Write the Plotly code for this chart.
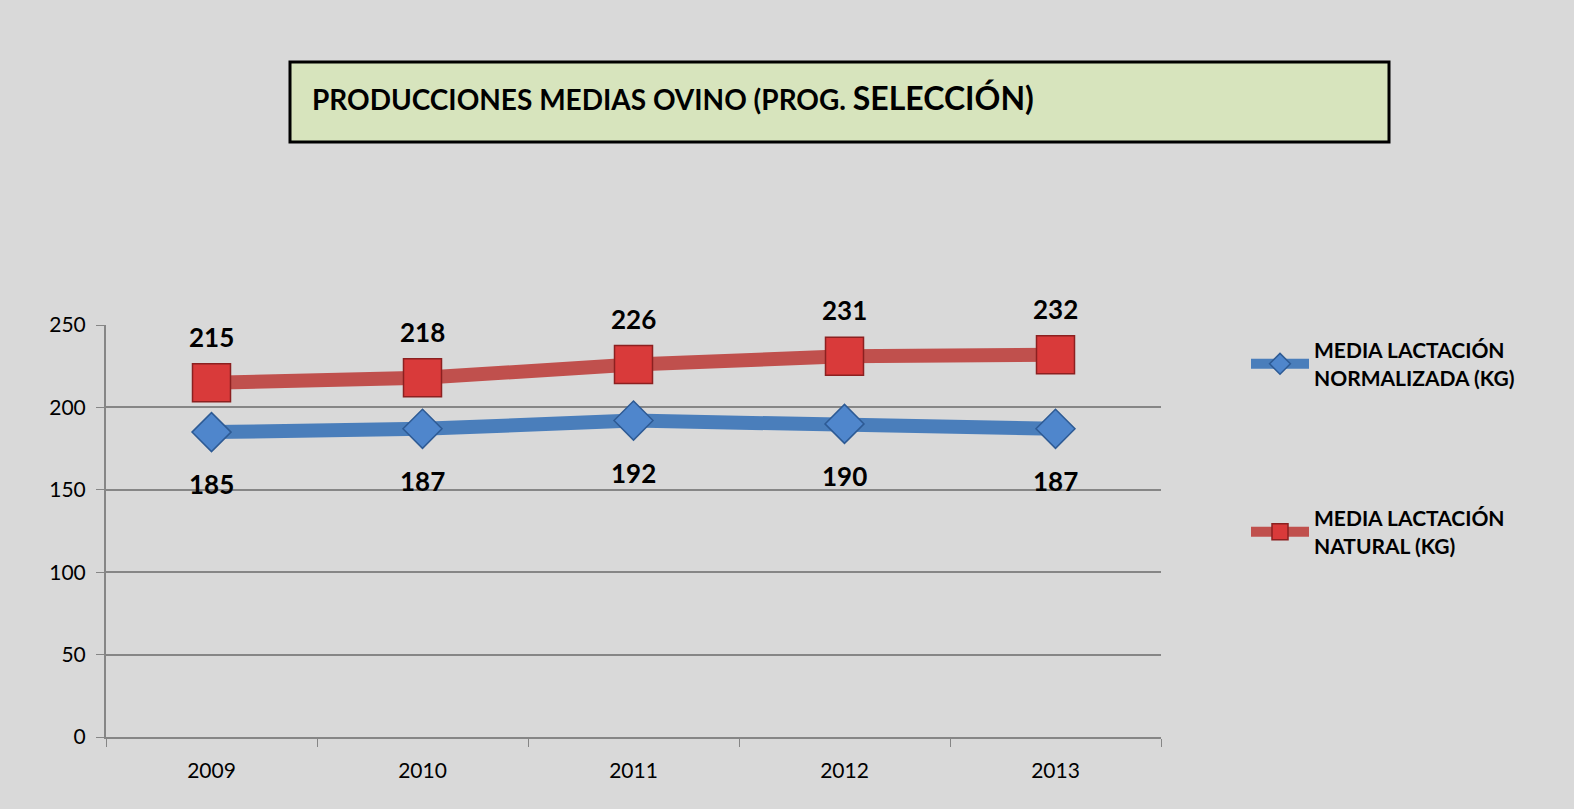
import plotly.graph_objects as go

years = ["2009", "2010", "2011", "2012", "2013"]
normalizada = [185, 187, 192, 190, 187]
natural = [215, 218, 226, 231, 232]
name_norm = "<b>MEDIA LACTACIÓN<br>NORMALIZADA (KG)</b>"
name_nat = "<b>MEDIA LACTACIÓN<br>NATURAL (KG)</b>"
title_text = "PRODUCCIONES MEDIAS OVINO (PROG. <span style='font-size:32px'>SELECCIÓN)</span>"

FONT = "Lato"
fig = go.Figure()
fig.add_trace(go.Scatter(
    x=years, y=normalizada, mode="lines+markers", name=name_norm,
    line=dict(color="#4a7ebb", width=14),
    marker=dict(symbol="diamond", size=30, color="#4f86cc",
                line=dict(color="#2d5a94", width=1.5)),
    legend="legend",
))
fig.add_trace(go.Scatter(
    x=years, y=natural, mode="lines+markers", name=name_nat,
    line=dict(color="#c0504d", width=14),
    marker=dict(symbol="square", size=38, color="#d93a3a",
                line=dict(color="#8c2020", width=1.5)),
    legend="legend2",
))

for i, v in enumerate(natural):
    fig.add_annotation(x=i, y=v, text=f"<b>{v}</b>", showarrow=False,
                       yshift=46, font=dict(size=26, color="black", family=FONT))
for i, v in enumerate(normalizada):
    fig.add_annotation(x=i, y=v, text=f"<b>{v}</b>", showarrow=False,
                       yshift=-52, font=dict(size=26, color="black", family=FONT))

# title box
fig.add_shape(type="rect", xref="paper", yref="paper",
              x0=(290 - 106) / 1055, x1=(1389 - 106) / 1055,
              y0=(737 - 142) / 412, y1=(737 - 62) / 412,
              fillcolor="#d7e4bd", line=dict(color="black", width=3))
fig.add_annotation(xref="paper", yref="paper",
                   x=(310 - 106) / 1055, y=(737 - 98) / 412,
                   xanchor="left", yanchor="middle", showarrow=False,
                   text=f"<b>{title_text}</b>",
                   font=dict(size=28, color="black", family=FONT))

legend_common = dict(xref="container", yref="container", xanchor="left", yanchor="top",
                     bgcolor="rgba(0,0,0,0)", itemwidth=58,
                     font=dict(size=21, family=FONT, color="black"))
fig.update_layout(
    width=1574, height=809,
    paper_bgcolor="#d9d9d9", plot_bgcolor="#d9d9d9",
    margin=dict(l=106, r=413, t=325, b=72),
    font=dict(family=FONT, size=21, color="black"),
    showlegend=True,
    legend=dict(x=1246 / 1574, y=1 - 330 / 809, **legend_common),
    legend2=dict(x=1246 / 1574, y=1 - 498 / 809, **legend_common),
)
fig.update_xaxes(type="category", range=[-0.5, 4.5], tickson="boundaries",
                 ticks="outside", ticklen=8, tickcolor="#868686",
                 showline=True, linecolor="#868686", linewidth=2,
                 showgrid=False, tickfont=dict(size=21, color="black"),
                 ticklabelstandoff=14)
fig.update_yaxes(range=[0, 250], dtick=50, showgrid=True, gridcolor="#868686",
                 gridwidth=1.5, zeroline=False, showline=True, linecolor="#868686",
                 linewidth=2, ticks="outside", ticklen=8, tickcolor="#868686",
                 tickfont=dict(size=21, color="black"), ticklabelstandoff=6)

fig.write_html("out.html", config={"displayModeBar": False},
               post_script="document.body.style.margin='0';")
